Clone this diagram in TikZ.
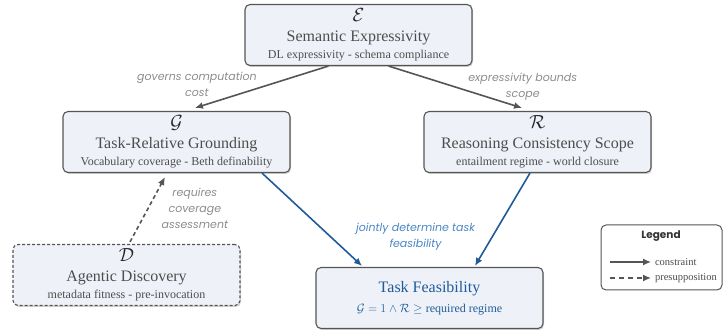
\RequirePackage{fix-cm}
\documentclass[tikz,border=0pt]{standalone}
\usepackage{fontspec}
\setmainfont{Liberation Serif}
\newfontfamily\poppins{Poppins}
\usetikzlibrary{shadows,arrows.meta}
\definecolor{boxfill}{HTML}{EEF2F8}
\definecolor{boxedge}{HTML}{555555}
\definecolor{boxtext}{HTML}{4D4D4D}
\definecolor{lblgrey}{HTML}{8C8C8C}
\definecolor{feasblue}{HTML}{1F5B9A}
\definecolor{lblblue}{HTML}{4A86C5}
\newcommand{\factorsym}[1]{{\fontsize{19}{20}\selectfont\color{black!85}$\mathcal{#1}$}}
\begin{document}
\begin{tikzpicture}[x=1pt,y=1pt,
  factor/.style={draw=boxedge, fill=boxfill, rounded corners=5pt, line width=1.1pt,
    minimum width=227pt, minimum height=61pt, align=center, text=boxtext, inner sep=2pt,
    font=\fontsize{16}{20}\selectfont,
    drop shadow={opacity=0.35, shadow xshift=1pt, shadow yshift=-1.5pt}},
  constraint/.style={draw=boxedge, line width=1.6pt, -{Latex[length=8pt,width=7pt]}},
  presup/.style={constraint, dash pattern=on 4pt off 3pt},
  jointly/.style={draw=feasblue, line width=1.6pt, -{Latex[length=8pt,width=7pt]}},
  lbl/.style={text=lblgrey, font=\fontsize{11}{16}\poppins\itshape, align=center}]
\useasboundingbox (0,0) rectangle (724,331);
% the factor boxes
\node[factor] (E) at (358.5,296) {\factorsym{E}\\
  Semantic Expressivity\\[-3pt]
  {\fontsize{12}{14}\selectfont DL expressivity - schema compliance}};
\node[factor] (G) at (176.5,189) {\factorsym{G}\\
  Task-Relative Grounding\\[-3pt]
  {\fontsize{12}{14}\selectfont Vocabulary coverage - Beth definability}};
\node[factor] (R) at (537.5,189) {\factorsym{R}\\
  Reasoning Consistency Scope\\[-3pt]
  {\fontsize{12}{14}\selectfont entailment regime - world closure}};
\node[factor, dash pattern=on 3pt off 2pt] (D) at (126.5,56) {\factorsym{D}\\
  Agentic Discovery\\[-3pt]
  {\fontsize{12}{14}\selectfont metadata fitness - pre-invocation}};
\node[factor, text=feasblue] (F) at (429.5,33) {Task Feasibility\\[0pt]
  {\fontsize{12}{14}\selectfont$\mathcal{G}=1\wedge\mathcal{R}\geq{}$required regime}};
% the arrows between them
\draw[constraint] ([xshift=-30pt]E.south) -- ([xshift=18.5pt,yshift=3pt]G.north)
  node[lbl, midway, left=1pt, yshift=3pt] {governs computation\\cost};
\draw[constraint] ([xshift=30pt]E.south) -- ([xshift=-15.5pt,yshift=3pt]R.north)
  node[lbl, midway, right=9pt] {expressivity bounds\\scope};
\draw[presup] ([xshift=3.5pt,yshift=2pt]D.north) -- ([xshift=-11.5pt,yshift=-4pt]G.south)
  node[lbl, midway, right=10pt, yshift=1pt] {requires\\coverage\\assessment};
\draw[jointly] ([xshift=85.5pt]G.south) -- ([xshift=-67.5pt,yshift=1pt]F.north)
  node[lbl, text=lblblue, pos=0.69, right=21pt] {jointly determine task\\feasibility};
\draw[jointly] ([xshift=-7.5pt]R.south) -- ([xshift=45.5pt,yshift=1pt]F.north);
% legend
\node[draw=boxedge, fill=white, rounded corners=5pt, line width=1pt, minimum width=121pt, minimum height=65pt] (legend) at (661.5,73.5) {};
\node[font=\fontsize{10.5}{12}\poppins\bfseries, text=black!80] (legtitle) at (661,95) {Legend};
\coordinate (c1) at (610,69);
\coordinate (c2) at (610,53);
\draw[constraint, line width=1.4pt] (c1) -- ++(41,0) node[right, text=boxtext, font=\fontsize{10.5}{12}\selectfont] {constraint};
\draw[presup, line width=1.4pt, dash pattern=on 5pt off 4pt] (c2) -- ++(41,0) node[right, text=boxtext, font=\fontsize{10.5}{12}\selectfont] {presupposition};
\end{tikzpicture}
\end{document}
